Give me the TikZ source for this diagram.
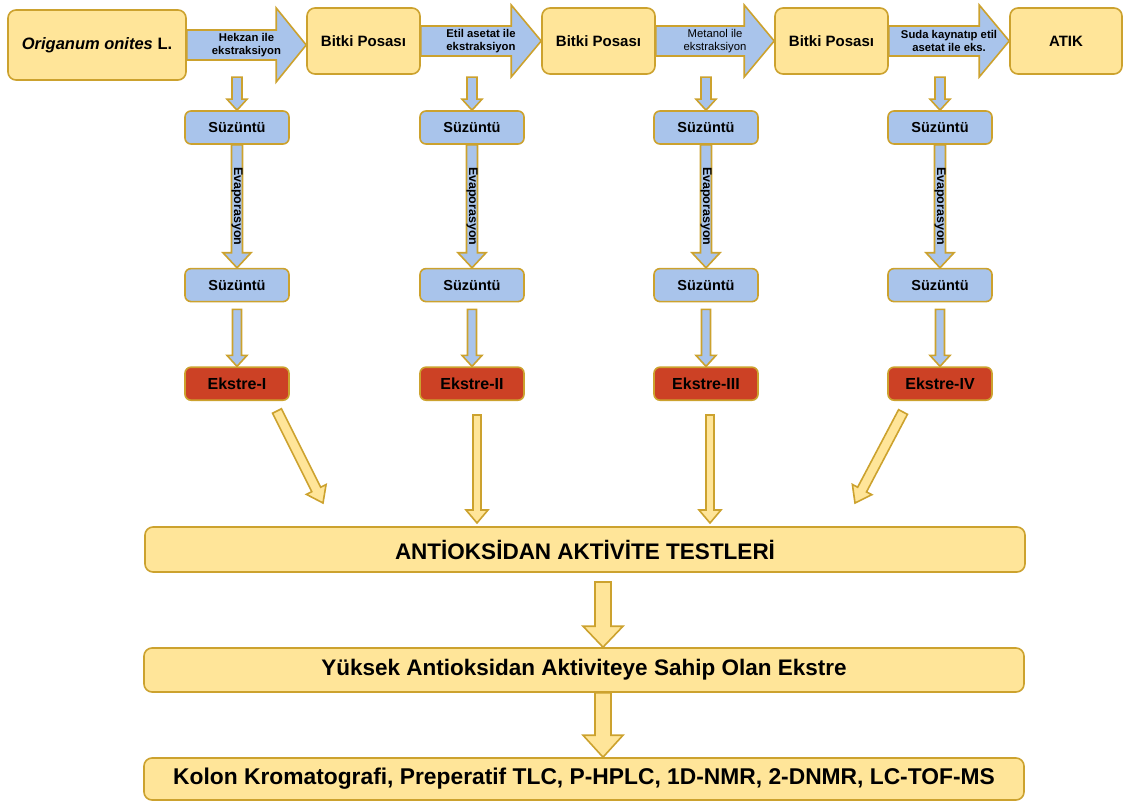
\documentclass[tikz,border=0pt]{standalone}
\usepackage{fontspec}
\setmainfont{Liberation Sans}
\usetikzlibrary{calc, positioning}

\definecolor{posayellow}{HTML}{FFE599}
\definecolor{posaline}{HTML}{CCA22E}
\definecolor{suzblue}{HTML}{A9C4EB}
\definecolor{ekred}{HTML}{CC4125}

% block arrow from #2 to #3: shaft half width, head half width, head length
\newcommand{\fatarrow}[6][]{%
  \draw[#1] let \p1=(#2), \p2=(#3),
    \n1={atan2(\y2-\y1,\x2-\x1)}, \n2={veclen(\x2-\x1,\y2-\y1)-#6} in
    ($(\p1)+(\n1+90:#4)$) -- ($(\p1)+(\n1:\n2)+(\n1+90:#4)$)
    -- ($(\p1)+(\n1:\n2)+(\n1+90:#5)$) -- (\p2)
    -- ($(\p1)+(\n1:\n2)+(\n1-90:#5)$) -- ($(\p1)+(\n1:\n2)+(\n1-90:#4)$)
    -- ($(\p1)+(\n1-90:#4)$) -- cycle;}

\begin{document}
\begin{tikzpicture}[
  x=1pt, y=1pt,
  topbox/.style={draw=posaline, fill=posayellow, line width=1.6pt, rounded corners=8pt, minimum width=113pt, minimum height=66pt, inner sep=0pt, font=\fontsize{15pt}{17pt}\selectfont\bfseries},
  suzbox/.style={draw=posaline, fill=suzblue, line width=1.6pt, rounded corners=6pt, minimum width=104pt, minimum height=33pt, inner sep=0pt, font=\fontsize{14.5pt}{16pt}\selectfont\bfseries},
  ekbox/.style={suzbox, fill=ekred, font=\fontsize{16pt}{18pt}\selectfont\bfseries},
  widebox/.style={draw=posaline, fill=posayellow, line width=1.6pt, rounded corners=8pt, minimum width=880pt, minimum height=45pt, inner sep=0pt, font=\fontsize{22.5pt}{24pt}\selectfont\bfseries},
  bluearrow/.style={draw=posaline, fill=suzblue, line width=1.6pt},
  yelarrow/.style={draw=posaline, fill=posayellow, line width=1.6pt},
  arrlabel/.style={align=center, inner sep=0pt, font=\fontsize{11.3pt}{12.3pt}\selectfont\bfseries},
  evaplabel/.style={rotate=-90, inner sep=0pt, font=\fontsize{12.5pt}{13pt}\selectfont\bfseries}
]
\useasboundingbox (0,0) rectangle (1124,-802);

% top row
\node[topbox, minimum width=178pt, minimum height=70pt, font=\fontsize{16.5pt}{18pt}\selectfont\bfseries] (ori) at (97,-45) {\textit{Origanum onites} L.};
\node[topbox] (bp1) at (363.5,-41) {Bitki Posası};
\node[topbox] (bp2) at (598.5,-41) {Bitki Posası};
\node[topbox] (bp3) at (831.5,-41) {Bitki Posası};
\node[topbox, minimum width=112pt] (atik) at (1066,-41) {ATIK};

\fatarrow[bluearrow]{ori.east}{ori.east -| bp1.west}{15}{37}{30}
\fatarrow[bluearrow]{bp1.east}{bp2.west}{15}{36}{30}
\fatarrow[bluearrow]{bp2.east}{bp3.west}{15}{36}{30}
\fatarrow[bluearrow]{bp3.east}{atik.west}{15}{36}{30}
\path (ori.east) -- (ori.east -| bp1.west) node[arrlabel, midway] {Hekzan ile\\ekstraksiyon};
\path (bp1.east) -- (bp2.west) node[arrlabel, midway] {Etil asetat ile\\ekstraksiyon};
\path (bp2.east) -- (bp3.west) node[arrlabel, midway, font=\fontsize{11.3pt}{12.3pt}\selectfont] {Metanol ile\\ekstraksiyon};
\path (bp3.east) -- (atik.west) node[arrlabel, midway] {Suda kaynatıp etil\\asetat ile eks.};

% columns
\node[suzbox] (sz1a) at (237,-127.5) {Süzüntü};
\node[suzbox, below=123pt of sz1a] (sz1b) {Süzüntü};
\node[ekbox, below=64pt of sz1b] (ek1) {Ekstre-I};

\node[suzbox] (sz2a) at (472,-127.5) {Süzüntü};
\node[suzbox, below=123pt of sz2a] (sz2b) {Süzüntü};
\node[ekbox, below=64pt of sz2b] (ek2) {Ekstre-II};

\node[suzbox] (sz3a) at (706,-127.5) {Süzüntü};
\node[suzbox, below=123pt of sz3a] (sz3b) {Süzüntü};
\node[ekbox, below=64pt of sz3b] (ek3) {Ekstre-III};

\node[suzbox] (sz4a) at (940,-127.5) {Süzüntü};
\node[suzbox, below=123pt of sz4a] (sz4b) {Süzüntü};
\node[ekbox, below=64pt of sz4b] (ek4) {Ekstre-IV};

\fatarrow[bluearrow]{$(sz1a.north)+(0,33)$}{sz1a.north}{5}{10}{11}
\fatarrow[bluearrow]{sz1a.south}{sz1b.north}{5.5}{14}{15}
\fatarrow[bluearrow]{$(sz1b.south)+(0,-7)$}{ek1.north}{4.5}{10}{11}
\path (sz1a) -- (sz1b) node[evaplabel, midway] {Evaporasyon};

\fatarrow[bluearrow]{$(sz2a.north)+(0,33)$}{sz2a.north}{5}{10}{11}
\fatarrow[bluearrow]{sz2a.south}{sz2b.north}{5.5}{14}{15}
\fatarrow[bluearrow]{$(sz2b.south)+(0,-7)$}{ek2.north}{4.5}{10}{11}
\path (sz2a) -- (sz2b) node[evaplabel, midway] {Evaporasyon};

\fatarrow[bluearrow]{$(sz3a.north)+(0,33)$}{sz3a.north}{5}{10}{11}
\fatarrow[bluearrow]{sz3a.south}{sz3b.north}{5.5}{14}{15}
\fatarrow[bluearrow]{$(sz3b.south)+(0,-7)$}{ek3.north}{4.5}{10}{11}
\path (sz3a) -- (sz3b) node[evaplabel, midway] {Evaporasyon};

\fatarrow[bluearrow]{$(sz4a.north)+(0,33)$}{sz4a.north}{5}{10}{11}
\fatarrow[bluearrow]{sz4a.south}{sz4b.north}{5.5}{14}{15}
\fatarrow[bluearrow]{$(sz4b.south)+(0,-7)$}{ek4.north}{4.5}{10}{11}
\path (sz4a) -- (sz4b) node[evaplabel, midway] {Evaporasyon};

% results
\node[widebox] (ant) at (585,-549.5) {ANTİOKSİDAN AKTİVİTE TESTLERİ};
\node[widebox, minimum height=44pt] (yuk) at (584,-670) {Yüksek Antioksidan Aktiviteye Sahip Olan Ekstre};
\node[widebox, minimum height=42pt, font=\fontsize{22.8pt}{24pt}\selectfont\bfseries] (kol) at (584,-779) {Kolon Kromatografi, Preperatif TLC, P-HPLC, 1D-NMR, 2-DNMR, LC-TOF-MS};

\coordinate (in1) at (323,-503);
\coordinate (in2) at (477,-523);
\coordinate (in3) at (710,-523);
\coordinate (in4) at (855,-503);
\fatarrow[yelarrow]{$(ek1.south)+(40,-10)$}{in1}{5}{11}{15}
\fatarrow[yelarrow]{$(ek2.south)+(5,-14)$}{in2}{4}{11}{13}
\fatarrow[yelarrow]{$(ek3.south)+(4,-14)$}{in3}{4}{11}{13}
\fatarrow[yelarrow]{$(ek4.south)+(-37,-11)$}{in4}{5}{11}{15}

\coordinate (m1) at (603,-582);
\fatarrow[yelarrow]{m1}{m1 |- yuk.north}{8}{20}{21}
\fatarrow[yelarrow]{yuk.south -| m1}{kol.north -| m1}{8}{20}{22}

\end{tikzpicture}
\end{document}
